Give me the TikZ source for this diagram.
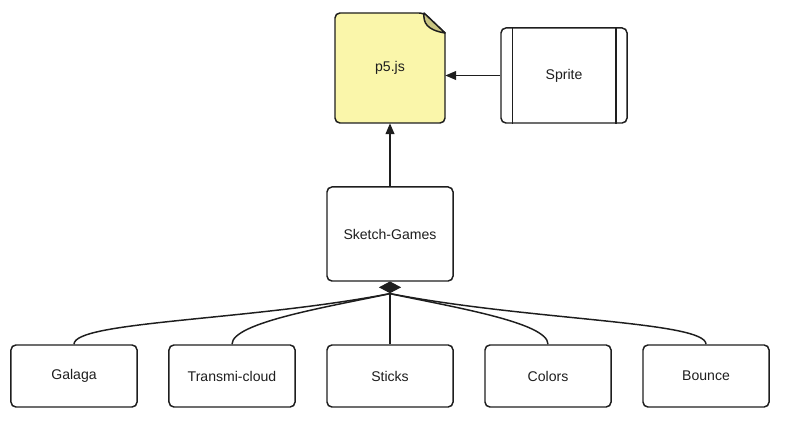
\documentclass[tikz,border=0pt]{standalone}
\usepackage{fontspec}
\setmainfont{Liberation Sans}
\usepackage{xcolor}
\usepackage{tikz}
\usetikzlibrary{shapes.geometric, arrows.meta, backgrounds}
\definecolor{docyellow}{RGB}{250, 246, 170}
\definecolor{foldolive}{RGB}{200, 196, 130}
\definecolor{inkgray}{RGB}{30, 30, 30}

\begin{document}
\begin{tikzpicture}[x=0.025cm, y=-0.025cm,
		box/.style={draw=inkgray, line width=1.05pt, rounded corners=3.5pt, minimum width=3.15cm, minimum height=1.55cm, inner sep=0pt, font=\fontsize{10}{12}\selectfont, text=inkgray},
		docbox/.style={minimum width=2.75cm, minimum height=2.75cm, inner sep=0pt, font=\fontsize{10}{12}\selectfont, text=inkgray},
		link/.style={draw=inkgray, line width=1.05pt},
		arr/.style={link, -{Triangle[length=0.27cm, width=0.22cm]}}]
			\useasboundingbox (0,0) rectangle (800,444);
			
			% Top row
			\node[docbox] (p5) at (390,68) {p5.js};
			\node[box, minimum height=2.375cm] (sprite) at (564,75.5) {Sprite};
			\draw[link] ([xshift=0.3cm]sprite.north west) -- ([xshift=0.3cm]sprite.south west);
			\draw[link] ([xshift=-0.3cm]sprite.north east) -- ([xshift=-0.3cm]sprite.south east);
			
			% Document shape behind p5.js
			\begin{scope}[on background layer]
				\draw[link, fill=docyellow] (335,70) [rounded corners=3.5pt] -- (335,13) -- (424,13) [sharp corners] -- (445,33) [rounded corners=3.5pt] -- (445,123) -- (335,123) -- cycle;
			\end{scope}
			\draw[link, fill=foldolive, line join=round] (424,13) .. controls (423,23) and (427,30) .. (445,33) -- cycle;
			
			% Middle
			\node[box, minimum height=2.35cm] (sg) at (390,234) {Sketch-Games};
			\node[diamond, fill=inkgray, inner sep=0pt, minimum width=0.56cm, minimum height=0.3cm, anchor=north] (comp) at ([yshift=0.5pt]sg.south) {};
			
			% Games
			\node[box] (galaga) at (74,376) {Galaga};
			\node[box] (transmi) at (232,376) {Transmi-cloud};
			\node[box] (sticks) at (390,376) {Sticks};
			\node[box] (colors) at (548,376) {Colors};
			\node[box] (bounce) at (706,376) {Bounce};
			
			% Arrows
			\draw[arr] (sprite.west) -- (sprite.west -| p5.east);
			\draw[arr] (sg) -- (p5);
			
			% Composition links
			\draw[link] (galaga.north) .. controls +(0,-23) and +(-140,27) .. (comp.south);
			\draw[link] (transmi.north) .. controls +(0,-22) and +(-60,13) .. (comp.south);
			\draw[link] (sticks.north) -- (comp.south);
			\draw[link] (colors.north) .. controls +(0,-22) and +(60,13) .. (comp.south);
			\draw[link] (bounce.north) .. controls +(0,-23) and +(140,27) .. (comp.south);
		\end{tikzpicture}
\end{document}
